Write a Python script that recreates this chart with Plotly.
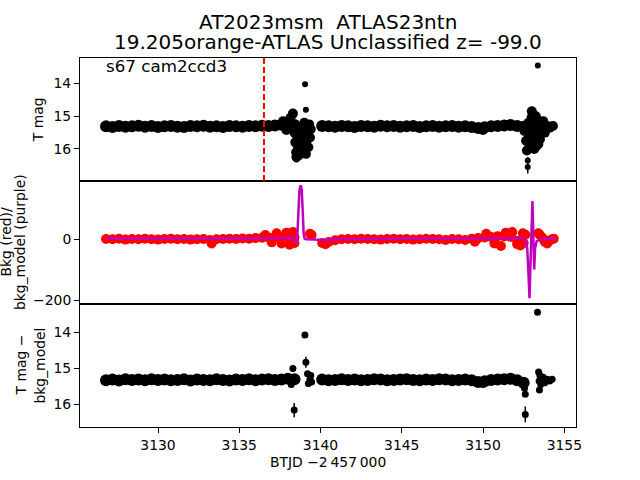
import plotly.graph_objects as go

# ---------------- data ----------------
band_t = [3126.8, 3127.2, 3127.6, 3128.0, 3128.4, 3128.8, 3129.2, 3129.6, 3130.0, 3130.4,
          3130.8, 3131.2, 3131.6, 3132.0, 3132.4, 3132.8, 3133.2, 3133.6, 3134.0, 3134.4,
          3134.8, 3135.2, 3135.6, 3136.0, 3136.4, 3136.8, 3137.2, 3137.6, 3138.0, 3138.4,
          3140.1, 3140.5, 3140.9, 3141.3, 3141.7, 3142.1, 3142.5, 3142.9, 3143.3, 3143.7,
          3144.1, 3144.5, 3144.9, 3145.3, 3145.7, 3146.1, 3146.5, 3146.9, 3147.3, 3147.7,
          3148.1, 3148.5, 3148.9, 3149.3, 3149.7, 3150.1, 3150.5, 3150.9, 3151.3, 3151.7,
          3152.1, 3152.5]

top_band_mag = [15.31, 15.33, 15.30, 15.32, 15.31, 15.29, 15.32, 15.30, 15.33, 15.31,
                15.30, 15.32, 15.33, 15.30, 15.31, 15.29, 15.32, 15.31, 15.33, 15.30,
                15.31, 15.32, 15.30, 15.31, 15.29, 15.30, 15.28, 15.26, 15.25, 15.27,
                15.30, 15.31, 15.32, 15.30, 15.31, 15.33, 15.30, 15.31, 15.32, 15.29,
                15.31, 15.30, 15.32, 15.31, 15.30, 15.33, 15.31, 15.30, 15.32, 15.31,
                15.30, 15.32, 15.31, 15.33, 15.36, 15.34, 15.31, 15.30, 15.28, 15.27,
                15.30, 15.32]

bkg_band = [1, 0, 2, -1, 1, 0, 2, 0, -1, 1,
            2, 0, 1, -1, 0, 1, -2, 0, 1, 2,
            1, 3, 2, 4, 5, 6, 8, 7, 9, 6,
            -12, -9, -3, 0, 1, 0, 2, 1, 0, -1,
            1, 2, 0, 1, -1, 0, 2, 1, 0, -2,
            1, 0, -2, 2, 4, 6, 8, 10, 9, 8,
            -5, -12]

bot_band_mag = [15.33, 15.31, 15.34, 15.30, 15.32, 15.31, 15.33, 15.30, 15.32, 15.31,
                15.33, 15.32, 15.30, 15.34, 15.31, 15.32, 15.33, 15.30, 15.32, 15.34,
                15.31, 15.32, 15.30, 15.33, 15.31, 15.30, 15.32, 15.31, 15.29, 15.30,
                15.31, 15.33, 15.32, 15.30, 15.32, 15.31, 15.33, 15.32, 15.30, 15.31,
                15.33, 15.32, 15.31, 15.30, 15.32, 15.33, 15.31, 15.32, 15.30, 15.31,
                15.33, 15.32, 15.31, 15.33, 15.38, 15.36, 15.32, 15.31, 15.30, 15.29,
                15.33, 15.40]

# dense scatter around the two gaps (top panel)
top_x_t = [3137.7, 3137.9, 3138.15, 3138.3, 3138.4, 3138.45, 3138.5, 3138.52, 3138.6, 3138.7,
           3138.8, 3138.85, 3138.95, 3139.0, 3139.05, 3139.15, 3139.2, 3139.3, 3139.4, 3150.0,
           3138.55, 3138.6, 3138.65, 3138.75, 3138.9, 3139.0, 3139.1, 3139.25, 3139.35,
           3152.55, 3152.65, 3152.7, 3152.8, 3152.9, 3152.95, 3153.0, 3153.05, 3153.1,
           3153.15, 3153.25, 3153.3, 3153.35, 3153.45, 3153.5, 3153.6, 3153.7, 3153.8, 3153.95,
           3154.1, 3154.3,
           3152.85, 3152.9, 3152.98, 3153.0, 3153.05, 3153.1, 3153.15, 3153.2, 3153.25, 3153.4]
top_x_mag = [15.15, 15.42, 15.05, 14.92, 15.50, 15.80, 16.10, 16.25, 15.60, 16.00,
             15.40, 15.75, 16.10, 15.20, 15.90, 15.45, 15.70, 15.25, 15.40, 15.42,
             15.60, 15.90, 16.20, 15.55, 15.65, 16.00, 16.15, 15.95, 15.65,
             15.45, 15.75, 16.05, 15.20, 15.55, 15.95, 14.85, 15.10, 15.75,
             15.40, 15.00, 15.90, 15.55, 15.20, 15.70, 15.35, 15.15, 15.50, 15.30,
             15.35, 15.30,
             15.85, 15.25, 15.05, 15.30, 15.50, 15.20, 16.00, 15.45, 15.70, 15.85]

# isolated points with error bars (top panel)
top_o_t = [3138.52, 3139.05, 3139.1, 3152.75, 3152.75, 3153.37]
top_o_mag = [16.32, 14.02, 14.80, 16.35, 16.55, 13.45]
top_o_err = [0.08, 0.02, 0.08, 0.1, 0.2, 0.02]

bkg_x_t = [3133.3, 3136.6, 3137.0, 3137.3, 3137.6, 3137.9, 3138.1, 3138.3, 3138.4, 3139.35,
           3139.45, 3140.3, 3149.5, 3150.2, 3150.7, 3151.1, 3151.4, 3151.8, 3152.1, 3152.3,
           3152.45, 3152.6, 3153.4, 3153.5, 3153.65, 3153.8, 3153.95, 3154.1, 3154.25, 3154.35]
bkg_x_val = [-14, 14, -10, 20, -14, 22, -18, 24, -12, 18,
             14, -16, -8, 18, -14, -22, 22, 24, -16, -20,
             20, 15, 20, 14, 5, -8, -14, -4, 0, 2]

model_t = [3126.8, 3128.5, 3130.5, 3132.5, 3134.5, 3136.5, 3137.5, 3138.3, 3138.45, 3138.52,
           3138.58, 3138.64, 3138.7, 3138.78, 3138.84, 3138.9, 3138.96, 3139.02, 3139.1, 3139.6,
           3140.1, 3141.0, 3143.0, 3145.0, 3147.0, 3149.0, 3150.5, 3152.0, 3152.5, 3152.62,
           3152.72, 3152.8, 3152.86, 3152.92, 3152.98, 3153.04, 3153.09, 3153.15, 3153.2, 3153.3,
           3153.6, 3154.0, 3154.44]
model_val = [2, 3, 2, 3, 3, 4, 5, 4, -8, -12,
             20, 100, 160, 178, 165, 100, 20, 2, 0, -1,
             -2, 0, 2, 2, 3, 3, 4, 4, 3, -5,
             -30, -120, -194, -80, 40, 126, 20, -99, -30, -6,
             0, 2, 3]

bot_x_t = [3138.2, 3138.3, 3138.38, 3139.04, 3139.1, 3139.2, 3139.25, 3139.35, 3139.4, 3139.45,
           3150.0, 3152.4, 3152.55, 3152.6, 3152.6, 3153.35, 3153.42, 3153.45, 3153.47, 3153.5,
           3153.55, 3153.7, 3153.8, 3153.95, 3154.1, 3154.25]
bot_x_mag = [15.45, 15.00, 16.16, 14.07, 14.83, 15.15, 15.42, 15.30, 15.20, 15.38,
             15.45, 15.45, 15.55, 15.72, 16.28, 13.44, 15.10, 15.35, 15.60, 15.20,
             15.45, 15.25, 15.40, 15.30, 15.35, 15.30]
bot_x_err = [0, 0, 0.2, 0.03, 0.15, 0, 0, 0, 0, 0,
             0, 0, 0, 0, 0.22, 0.02, 0, 0, 0, 0,
             0, 0, 0, 0, 0, 0]

discovery_t = 3136.52
x_ticks = [3130, 3135, 3140, 3145, 3150, 3155]
mag_ticks = [14, 15, 16]
bkg_ticks = [-200, 0]

# ---------------- figure ----------------
BLACK = "black"
RED = "#ff0000"
PURPLE = "#bf00bf"
FONT = "DejaVu Sans"

fig = go.Figure()

fig.add_trace(go.Scatter(x=band_t, y=top_band_mag, mode="markers",
                         marker=dict(color=BLACK, size=12, line=dict(width=0)),
                         xaxis="x", yaxis="y", showlegend=False))
fig.add_trace(go.Scatter(x=top_x_t, y=top_x_mag, mode="markers",
                         marker=dict(color=BLACK, size=10, line=dict(width=0)),
                         xaxis="x", yaxis="y", showlegend=False))
fig.add_trace(go.Scatter(x=top_o_t, y=top_o_mag, mode="markers",
                         marker=dict(color=BLACK, size=6, line=dict(width=0)),
                         error_y=dict(type="data", array=top_o_err, visible=True,
                                      color=BLACK, thickness=1.5, width=0),
                         xaxis="x", yaxis="y", showlegend=False))

fig.add_trace(go.Scatter(x=band_t, y=bkg_band, mode="markers",
                         marker=dict(color=RED, size=10, line=dict(width=0)),
                         xaxis="x2", yaxis="y2", showlegend=False))
fig.add_trace(go.Scatter(x=bkg_x_t, y=bkg_x_val, mode="markers",
                         marker=dict(color=RED, size=10, line=dict(width=0)),
                         xaxis="x2", yaxis="y2", showlegend=False))
fig.add_trace(go.Scatter(x=model_t, y=model_val, mode="lines",
                         line=dict(color=PURPLE, width=2.5),
                         xaxis="x2", yaxis="y2", showlegend=False))

fig.add_trace(go.Scatter(x=band_t, y=bot_band_mag, mode="markers",
                         marker=dict(color=BLACK, size=12, line=dict(width=0)),
                         xaxis="x3", yaxis="y3", showlegend=False))
fig.add_trace(go.Scatter(x=bot_x_t, y=bot_x_mag, mode="markers",
                         marker=dict(color=BLACK, size=7, line=dict(width=0)),
                         error_y=dict(type="data", array=bot_x_err, visible=True,
                                      color=BLACK, thickness=1.5, width=0),
                         xaxis="x3", yaxis="y3", showlegend=False))

xrange_ = [3125.2, 3155.72]
common_ax = dict(showline=True, mirror=True, linecolor=BLACK, linewidth=1,
                 showgrid=False, zeroline=False, tickcolor=BLACK, ticklen=5,
                 tickfont=dict(family=FONT, size=13.9, color=BLACK))

fig.update_layout(
    width=640, height=480,
    margin=dict(l=80, r=64, t=57.6, b=52.8),
    paper_bgcolor="white", plot_bgcolor="white",
    font=dict(family=FONT, size=13.9, color=BLACK),
    xaxis=dict(domain=[0, 1], anchor="y", range=xrange_, showticklabels=False, ticks="", **common_ax),
    xaxis2=dict(domain=[0, 1], anchor="y2", range=xrange_, showticklabels=False, ticks="", **common_ax),
    xaxis3=dict(domain=[0, 1], anchor="y3", range=xrange_, ticks="outside", tickvals=x_ticks, **common_ax),
    yaxis=dict(domain=[2/3, 1], anchor="x", range=[16.98, 13.22], ticks="outside", tickvals=mag_ticks, **common_ax),
    yaxis2=dict(domain=[1/3, 2/3], anchor="x2", range=[-213, 192], ticks="outside", tickvals=bkg_ticks, **common_ax),
    yaxis3=dict(domain=[0, 1/3], anchor="x3", range=[16.63, 13.21], ticks="outside", tickvals=mag_ticks, **common_ax),
)

fig.add_shape(type="line", xref="x", yref="y domain", x0=discovery_t, x1=discovery_t, y0=0, y1=1,
              line=dict(color=RED, width=2, dash="6px,3px"))

H = 369.6
def py(px):
    return 1 - (px - 57.6) / H
def pxx(px):
    return (px - 80) / 496

ann = [
    dict(text="AT2023msm  ATLAS23ntn", x=0.5, y=py(21.5), size=20, angle=0),
    dict(text="19.205orange-ATLAS Unclassified z= -99.0", x=0.5, y=py(42), size=20, angle=0),
    dict(text="BTJD \u22122\u2009457\u2009000", x=0.5, y=py(462.5), size=13.9, angle=0),
    dict(text="T mag", x=pxx(38.7), y=5/6, size=13.9, angle=-90),
    dict(text="Bkg (red)/", x=pxx(5), y=0.5, size=13.9, angle=-90),
    dict(text="bkg_model (purple)", x=pxx(19.5), y=0.5, size=13.9, angle=-90),
    dict(text="T mag \u2212", x=pxx(20), y=1/6, size=13.9, angle=-90),
    dict(text="bkg_model", x=pxx(39), y=1/6, size=13.9, angle=-90),
]
for a in ann:
    fig.add_annotation(text=a["text"], xref="paper", yref="paper", x=a["x"], y=a["y"],
                       xanchor="center", yanchor="middle", showarrow=False, textangle=a["angle"],
                       font=dict(family=FONT, size=a["size"], color=BLACK))

fig.add_annotation(text="s67 cam2ccd3", xref="paper", yref="paper", x=pxx(104), y=py(65.5),
                   xanchor="left", yanchor="middle", showarrow=False,
                   font=dict(family=FONT, size=16.7, color=BLACK))

fig.write_html("out.html", config={"displayModeBar": False},
               post_script="document.body.style.margin='0';document.body.style.overflow='hidden';")
